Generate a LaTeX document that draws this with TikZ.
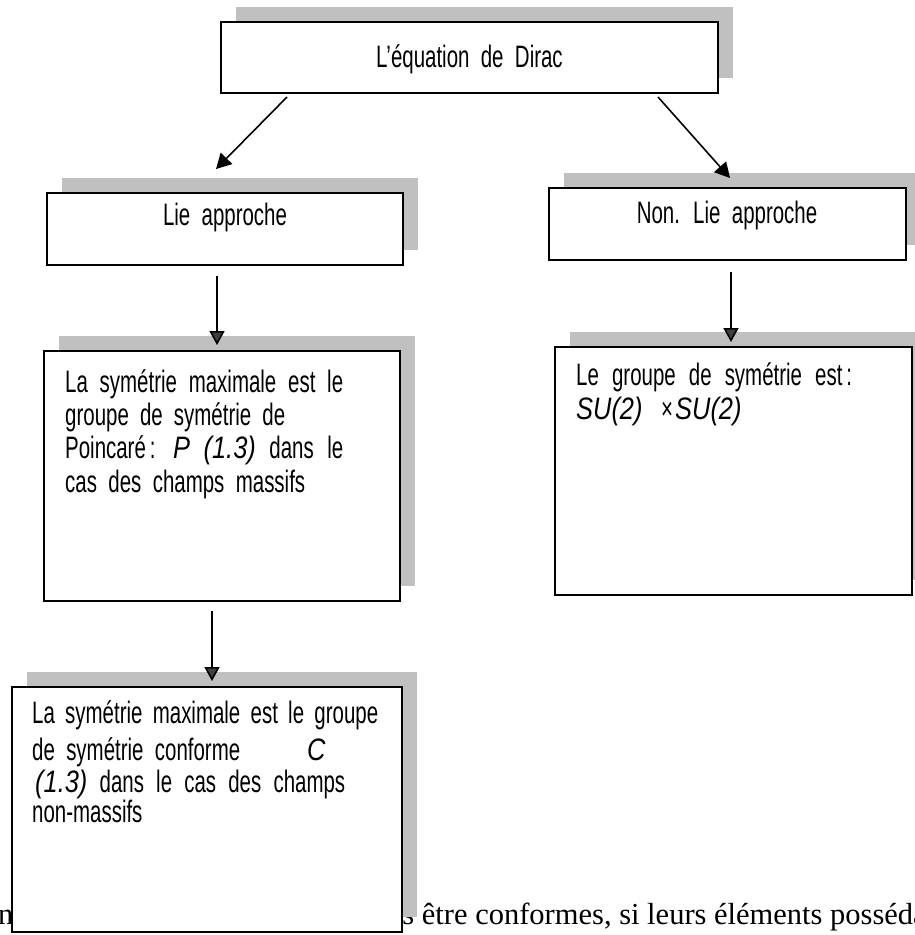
\documentclass[tikz,border=0pt]{standalone}
\usepackage{fontspec}
\setmainfont{Liberation Sans}[FakeStretch=0.66, WordSpace=2]
\newfontfamily\itf{Liberation Sans}[FakeStretch=0.82]
\newcommand{\ital}[1]{{\itf\itshape #1}}
\newfontfamily\bgserif{Liberation Serif}
\usetikzlibrary{arrows.meta,shadows}
\definecolor{shadowgray}{HTML}{C0C0C0}
\definecolor{headgray}{HTML}{404040}
\begin{document}
\begin{tikzpicture}[x=1pt,y=-1pt,
  box/.style={draw=black, line width=1.8pt, fill=white, rectangle, inner sep=0pt,
    drop shadow={shadow xshift=15pt, shadow yshift=15pt, fill=shadowgray, opacity=1, draw=none}},
  arr/.style={line width=1.6pt, -{Triangle[length=15pt,width=16pt]}},
  varr/.style={line width=1.6pt, -{Triangle[length=14pt,width=15pt,fill=headgray]}},
  txt/.style={inner sep=0pt, anchor=base west, font=\fontsize{31}{33}\selectfont},
  ttl/.style={inner sep=0pt, anchor=base, font=\fontsize{31}{33}\selectfont},
  bg/.style={inner sep=0pt, anchor=base west, font=\bgserif\fontsize{30.5}{32}\selectfont}]
\useasboundingbox (0,0) rectangle (914,935);
\fill[white] (0,0) rectangle (914,935);
% background text of the page
\node[bg] (bgl) at (-2,924) {n};
\node[bg] (bgr) at (387,924) {us être conformes, si leurs éléments posséda};
% boxes
\node[box, minimum width=497pt, minimum height=71pt] (top) at (469.5,57.5) {};
\node[box, minimum width=356pt, minimum height=72pt] (lie) at (225,229) {};
\node[box, minimum width=357pt, minimum height=72pt] (nonlie) at (727.5,224) {};
\node[box, minimum width=356pt, minimum height=250pt] (lmid) at (222,476) {};
\node[box, minimum width=357pt, minimum height=248pt] (rmid) at (733.5,471) {};
\node[box, minimum width=390pt, minimum height=245pt] (bot) at (207,809.5) {};
% titles
\node[ttl] (ttop) at (469.5,67) {L’équation de Dirac};
\node[ttl] (tlie) at (225,225) {Lie approche};
\node[ttl] (tnon) at (727,223) {Non. Lie approche};
% left middle text
\node[txt] (l1) at (65,392) {\makebox[278pt][s]{La symétrie maximale est le}};
\node[txt] (l2) at (65,425) {\makebox[220pt][s]{groupe de symétrie de}};
\node[txt] (l3) at (65,458) {\makebox[278pt][s]{Poincaré\hspace{4pt}: \ital{P} \ital{(1.3)} dans le}};
\node[txt] (l4) at (65,492) {\makebox[240pt][s]{cas des champs massifs}};
% right middle text
\node[txt] (r1) at (576,385) {\makebox[276pt][s]{Le groupe de symétrie est\hspace{4pt}:}};
\node[txt] (r2a) at (576,419) {\ital{SU(2)}};
\node[txt] (r2b) at (661,419) {×};
\node[txt] (r2c) at (675,419) {\ital{SU(2)}};
% bottom text
\node[txt] (b1) at (32,723) {\makebox[346pt][s]{La symétrie maximale est le groupe}};
\node[txt] (b2) at (32,760) {\makebox[208pt][s]{de symétrie conforme}};
\node[txt] (b2c) at (307,760) {\ital{C}};
\node[txt] (b3) at (35,792) {\makebox[310pt][s]{\ital{(1.3)} dans le cas des champs}};
\node[txt] (b4) at (32,822) {non-massifs};
% connector ends
\coordinate (a1s) at (287,97);  \coordinate (a1e) at (216,169);
\coordinate (a2s) at (658,97);  \coordinate (a2e) at (730,178);
\coordinate (a3s) at (217,276); \coordinate (a3e) at (217,345);
\coordinate (a4s) at (731,272); \coordinate (a4e) at (731,342);
\coordinate (a5s) at (212,611); \coordinate (a5e) at (212,681);
\draw[arr] (a1s) -- (a1e);
\draw[arr] (a2s) -- (a2e);
\draw[varr] (a3s) -- (a3e);
\draw[varr] (a4s) -- (a4e);
\draw[varr] (a5s) -- (a5e);
\end{tikzpicture}
\end{document}
